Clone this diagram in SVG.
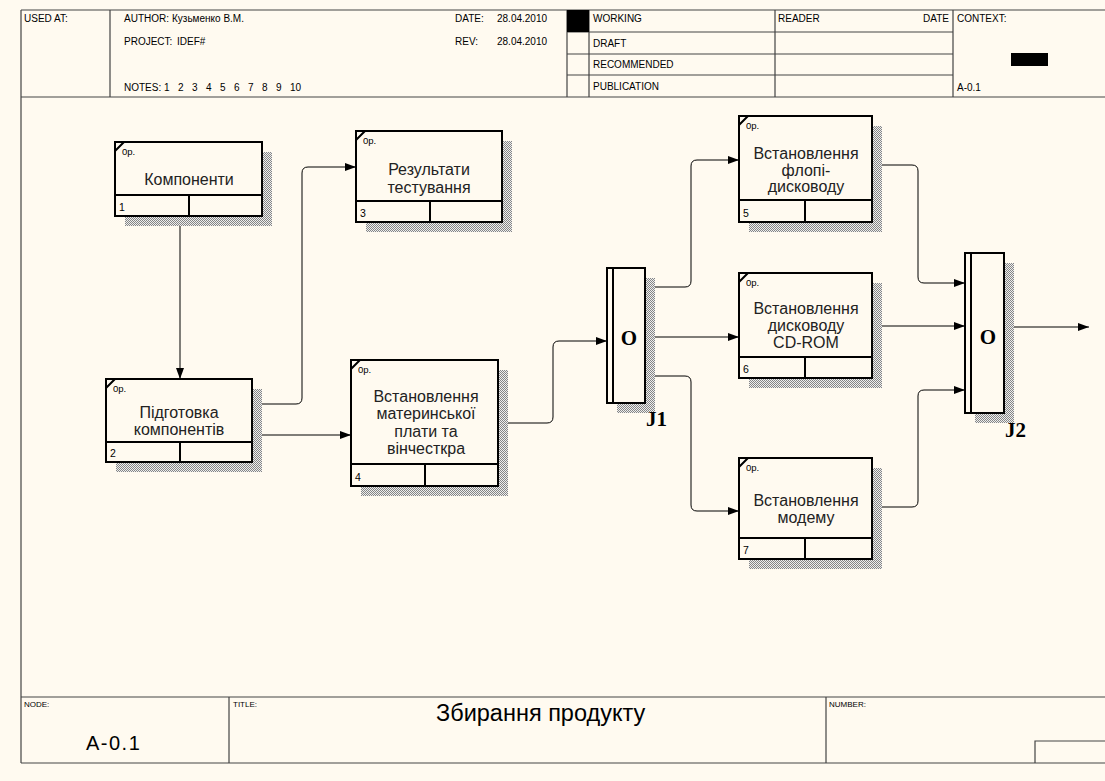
<svg xmlns="http://www.w3.org/2000/svg" width="1105" height="781" viewBox="0 0 1105 781">
  <defs>
    <pattern id="shade" width="2" height="2" patternUnits="userSpaceOnUse">
      <rect width="2" height="2" fill="#eeeeee"/>
      <rect width="1" height="1" fill="#858585"/>
      <rect x="1" y="1" width="1" height="1" fill="#858585"/>
    </pattern>
    <marker id="arrow" markerUnits="userSpaceOnUse" markerWidth="12" markerHeight="10" refX="11" refY="4" orient="auto">
      <path d="M0,0 L11,4 L0,8 Z" fill="#000"/>
    </marker>
  </defs>
  <style>
    .frame { fill: none; stroke: #444; stroke-width: 1.2; }
    .hdr { font-family: "Liberation Sans", Arial, sans-serif; font-size: 10px; fill: #000; }
    .small { font-family: "Liberation Sans", Arial, sans-serif; font-size: 8px; fill: #000; }
    .big { font-family: "Liberation Sans", Arial, sans-serif; font-size: 20px; fill: #000; }
    .title { font-family: "Liberation Sans", Arial, sans-serif; font-size: 23.5px; fill: #000; }
    .box { fill: #fffaf0; stroke: #000; stroke-width: 2; }
    .div { stroke: #000; stroke-width: 2; fill: none; }
    .shadow { fill: url(#shade); }
    .label { font-family: "Liberation Sans", Arial, sans-serif; font-size: 16px; fill: #222; text-anchor: middle; }
    .op { font-family: "Liberation Sans", Arial, sans-serif; font-size: 9.5px; fill: #000; }
    .num { font-family: "Liberation Sans", Arial, sans-serif; font-size: 10.5px; fill: #000; }
    .jt { font-family: "Liberation Serif", "Times New Roman", serif; font-weight: bold; font-size: 21px; fill: #000; }
    .conn { fill: none; stroke: #000; stroke-width: 1; }
  </style>

  <rect width="1105" height="781" fill="#fffaf0"/>

  <!-- header block -->
  <g id="header">
    <path class="frame" d="M21 10 H1105 M21 10 V763 M21 97 H1105 M110 10 V97 M567 10 V97 M589 10 V97 M775 10 V97 M953 10 V97 M567 32 H953 M567 54 H953 M567 75 H953"/>
    <rect x="567" y="10" width="22" height="22" fill="#000"/>
    <text class="hdr" x="24" y="22">USED AT:</text>
    <text class="hdr" x="124" y="22">AUTHOR:</text>
    <text class="hdr" x="172" y="22">Кузьменко В.М.</text>
    <text class="hdr" x="124" y="45">PROJECT:</text>
    <text class="hdr" x="177" y="45">IDEF#</text>
    <text class="hdr" x="124" y="91">NOTES:</text>
    <g class="hdr">
      <text x="164" y="91">1</text><text x="178" y="91">2</text><text x="192" y="91">3</text>
      <text x="206" y="91">4</text><text x="220" y="91">5</text><text x="234" y="91">6</text>
      <text x="248" y="91">7</text><text x="262" y="91">8</text><text x="276" y="91">9</text>
      <text x="290" y="91">10</text>
    </g>
    <text class="hdr" x="455" y="22">DATE:</text>
    <text class="hdr" x="497" y="22">28.04.2010</text>
    <text class="hdr" x="455" y="45">REV:</text>
    <text class="hdr" x="497" y="45">28.04.2010</text>
    <text class="hdr" x="593" y="22">WORKING</text>
    <text class="hdr" x="593" y="47">DRAFT</text>
    <text class="hdr" x="593" y="68">RECOMMENDED</text>
    <text class="hdr" x="593" y="90">PUBLICATION</text>
    <text class="hdr" x="778" y="22">READER</text>
    <text class="hdr" x="949" y="22" text-anchor="end">DATE</text>
    <text class="hdr" x="957" y="22">CONTEXT:</text>
    <rect x="1011" y="53" width="37" height="13" fill="#000"/>
    <text class="hdr" x="957" y="91">A-0.1</text>
  </g>

  <!-- footer block -->
  <g id="footer">
    <path class="frame" d="M21 697 H1105 M21 763 H1105 M229 697 V763 M826 697 V763 M1035 763 V741 H1105"/>
    <text class="small" x="24" y="707">NODE:</text>
    <text class="big" x="86" y="750" letter-spacing="1.5">A-0.1</text>
    <text class="small" x="233" y="707">TITLE:</text>
    <text class="title" x="436" y="721">Збирання продукту</text>
    <text class="small" x="829" y="707">NUMBER:</text>
  </g>

  <!-- connectors -->
  <g id="connectors">
    <path class="conn" d="M180 216 V379" marker-end="url(#arrow)"/>
    <path class="conn" d="M252 404 H296 Q302 404 302 398 V173 Q302 167 308 167 H356" marker-end="url(#arrow)"/>
    <path class="conn" d="M252 435 H351" marker-end="url(#arrow)"/>
    <path class="conn" d="M498 423 H547 Q553 423 553 417 V347 Q553 341 559 341 H607" marker-end="url(#arrow)"/>
    <path class="conn" d="M645 287 H685 Q691 287 691 281 V166 Q691 160 697 160 H739" marker-end="url(#arrow)"/>
    <path class="conn" d="M645 337 H739" marker-end="url(#arrow)"/>
    <path class="conn" d="M645 376 H685 Q691 376 691 382 V505 Q691 511 697 511 H739" marker-end="url(#arrow)"/>
    <path class="conn" d="M872 165 H912 Q918 165 918 171 V277 Q918 283 924 283 H965" marker-end="url(#arrow)"/>
    <path class="conn" d="M872 326 H965" marker-end="url(#arrow)"/>
    <path class="conn" d="M872 507 H912 Q918 507 918 501 V396 Q918 390 924 390 H965" marker-end="url(#arrow)"/>
    <path class="conn" d="M1004 327 H1089" marker-end="url(#arrow)"/>
  </g>

  <!-- activity boxes -->
  <g id="node-1">
    <rect class="shadow" x="125" y="152" width="147" height="74"/>
    <rect class="box" x="115" y="142" width="147" height="74"/>
    <path class="div" d="M115 195 H262 M189 195 V216 M115 151 L124 142"/>
    <text class="op" x="122" y="155">0p.</text>
    <text class="label" x="189" y="185">Компоненти</text>
    <text class="num" x="119" y="211">1</text>
  </g>

  <g id="node-2">
    <rect class="shadow" x="116" y="389" width="146" height="83"/>
    <rect class="box" x="106" y="379" width="146" height="83"/>
    <path class="div" d="M106 442 H252 M180 442 V462 M106 388 L115 379"/>
    <text class="op" x="113" y="392">0p.</text>
    <text class="label" x="179" y="417.5">Підготовка</text>
    <text class="label" x="179" y="435">компонентів</text>
    <text class="num" x="110" y="457">2</text>
  </g>

  <g id="node-3">
    <rect class="shadow" x="366" y="141" width="146" height="91"/>
    <rect class="box" x="356" y="131" width="146" height="91"/>
    <path class="div" d="M356 201 H502 M430 201 V222 M356 140 L365 131"/>
    <text class="op" x="363" y="144">0p.</text>
    <text class="label" x="429" y="175">Результати</text>
    <text class="label" x="429" y="192.5">тестування</text>
    <text class="num" x="360" y="217">3</text>
  </g>

  <g id="node-4">
    <rect class="shadow" x="361" y="370" width="147" height="126"/>
    <rect class="box" x="351" y="360" width="147" height="126"/>
    <path class="div" d="M351 464 H498 M425 464 V486 M351 369 L360 360"/>
    <text class="op" x="358" y="373">0p.</text>
    <text class="label" x="426" y="401.5">Встановлення</text>
    <text class="label" x="426" y="419">материнської</text>
    <text class="label" x="426" y="436.5">плати та</text>
    <text class="label" x="426" y="454">вінчесткра</text>
    <text class="num" x="355" y="481">4</text>
  </g>

  <g id="node-5">
    <rect class="shadow" x="749" y="126" width="133" height="106"/>
    <rect class="box" x="739" y="116" width="133" height="106"/>
    <path class="div" d="M739 200 H872 M805 200 V222 M739 125 L748 116"/>
    <text class="op" x="746" y="129">0p.</text>
    <text class="label" x="806" y="158.5">Встановлення</text>
    <text class="label" x="806" y="175.5">флопі-</text>
    <text class="label" x="806" y="192">дисководу</text>
    <text class="num" x="743" y="217">5</text>
  </g>

  <g id="node-6">
    <rect class="shadow" x="749" y="283" width="133" height="105"/>
    <rect class="box" x="739" y="273" width="133" height="105"/>
    <path class="div" d="M739 357 H872 M805 357 V378 M739 282 L748 273"/>
    <text class="op" x="746" y="286">0p.</text>
    <text class="label" x="806" y="313.5">Встановлення</text>
    <text class="label" x="806" y="331">дисководу</text>
    <text class="label" x="806" y="348">CD-ROM</text>
    <text class="num" x="743" y="373">6</text>
  </g>

  <g id="node-7">
    <rect class="shadow" x="749" y="468" width="133" height="101"/>
    <rect class="box" x="739" y="458" width="133" height="101"/>
    <path class="div" d="M739 538 H872 M805 538 V559 M739 467 L748 458"/>
    <text class="op" x="746" y="471">0p.</text>
    <text class="label" x="806" y="505.5">Встановлення</text>
    <text class="label" x="806" y="523">модему</text>
    <text class="num" x="743" y="554">7</text>
  </g>

  <!-- junctions -->
  <g id="junction-J1">
    <rect class="shadow" x="617" y="278" width="38" height="135"/>
    <rect class="box" x="607" y="268" width="38" height="135"/>
    <path class="div" d="M613 268 V403"/>
    <text class="jt" x="629" y="345" text-anchor="middle">O</text>
    <text class="jt" x="646" y="426">J1</text>
  </g>

  <g id="junction-J2">
    <rect class="shadow" x="975" y="263" width="39" height="160"/>
    <rect class="box" x="965" y="253" width="39" height="160"/>
    <path class="div" d="M971 253 V413"/>
    <text class="jt" x="988" y="344" text-anchor="middle">O</text>
    <text class="jt" x="1005" y="437">J2</text>
  </g>
</svg>
